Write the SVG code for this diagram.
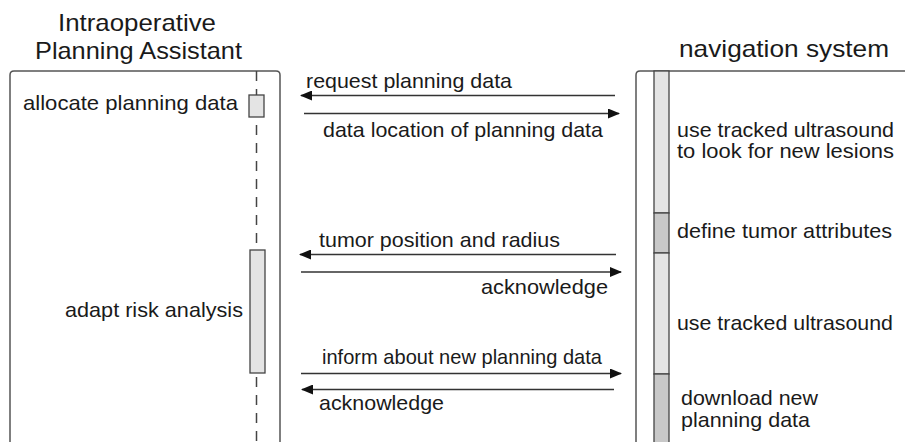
<svg xmlns="http://www.w3.org/2000/svg" width="905" height="442" viewBox="0 0 905 442">
<style>
text{font-family:"Liberation Sans",Arial,sans-serif;fill:#1a1a1a}
.t{font-size:24px}
.l{font-size:21px}
.box{fill:none;stroke:#555;stroke-width:1.5}
.life{stroke:#444;stroke-width:1.5;stroke-dasharray:10,8}
.act{fill:#e4e4e4;stroke:#444;stroke-width:1.3}
.act2{fill:#c8c8c8;stroke:#444;stroke-width:1.3}
.msg{stroke:#333;stroke-width:1.5;fill:none}
</style>
<defs>
<marker id="ah" markerWidth="12" markerHeight="10" refX="11" refY="5" orient="auto" markerUnits="userSpaceOnUse">
<path d="M0,0 L12,5 L0,10 Z" fill="#111"/>
</marker>
</defs>
<g id="ipa">
<text class="t" x="58" y="31" textLength="158" lengthAdjust="spacingAndGlyphs">Intraoperative</text>
<text class="t" x="35" y="59" textLength="207" lengthAdjust="spacingAndGlyphs">Planning Assistant</text>
<path class="box" d="M10,450 V75 Q10,71 14,71 H276 Q280,71 280,75 V450"/>
<line class="life" x1="256.5" y1="71" x2="256.5" y2="442"/>
</g>
<g id="ipa-allocate">
<rect class="act" x="249" y="95" width="15" height="22"/>
<text class="l" x="23" y="110" textLength="215" lengthAdjust="spacingAndGlyphs">allocate planning data</text>
</g>
<g id="ipa-adapt">
<rect class="act" x="250" y="250" width="15" height="123"/>
<text class="l" x="65" y="317" textLength="178" lengthAdjust="spacingAndGlyphs">adapt risk analysis</text>
</g>
<g id="nav">
<text class="t" x="679" y="57" textLength="210" lengthAdjust="spacingAndGlyphs">navigation system</text>
<path class="box" d="M636,450 V75 Q636,71 640,71 H910"/>
</g>
<g id="nav-use1">
<rect class="act" x="654" y="71" width="15" height="142"/>
<text class="l" x="677" y="137" textLength="217" lengthAdjust="spacingAndGlyphs">use tracked ultrasound</text>
<text class="l" x="677" y="158" textLength="217" lengthAdjust="spacingAndGlyphs">to look for new lesions</text>
</g>
<g id="nav-define">
<rect class="act2" x="654" y="213" width="15" height="40"/>
<text class="l" x="677" y="238" textLength="215" lengthAdjust="spacingAndGlyphs">define tumor attributes</text>
</g>
<g id="nav-use2">
<rect class="act" x="654" y="253" width="15" height="121"/>
<text class="l" x="677" y="330" textLength="216" lengthAdjust="spacingAndGlyphs">use tracked ultrasound</text>
</g>
<g id="nav-download">
<rect class="act2" x="654" y="374" width="15" height="75"/>
<text class="l" x="681" y="405" textLength="137" lengthAdjust="spacingAndGlyphs">download new</text>
<text class="l" x="681" y="427" textLength="129" lengthAdjust="spacingAndGlyphs">planning data</text>
</g>
<g id="connectors">
<line class="msg" x1="615" y1="95.5" x2="301" y2="95.5" marker-end="url(#ah)"/>
<text class="l" x="306" y="88" textLength="206" lengthAdjust="spacingAndGlyphs">request planning data</text>
<line class="msg" x1="304" y1="113.5" x2="619" y2="113.5" marker-end="url(#ah)"/>
<text class="l" x="323" y="137" textLength="280" lengthAdjust="spacingAndGlyphs">data location of planning data</text>
<line class="msg" x1="616" y1="254.5" x2="300" y2="254.5" marker-end="url(#ah)"/>
<text class="l" x="319" y="247" textLength="241" lengthAdjust="spacingAndGlyphs">tumor position and radius</text>
<line class="msg" x1="301" y1="272" x2="621" y2="272" marker-end="url(#ah)"/>
<text class="l" x="481" y="294" textLength="127" lengthAdjust="spacingAndGlyphs">acknowledge</text>
<line class="msg" x1="301" y1="373.5" x2="621" y2="373.5" marker-end="url(#ah)"/>
<text class="l" x="322" y="364" textLength="280" lengthAdjust="spacingAndGlyphs">inform about new planning data</text>
<line class="msg" x1="614" y1="389.5" x2="302" y2="389.5" marker-end="url(#ah)"/>
<text class="l" x="319" y="410" textLength="125" lengthAdjust="spacingAndGlyphs">acknowledge</text>
</g>
</svg>
